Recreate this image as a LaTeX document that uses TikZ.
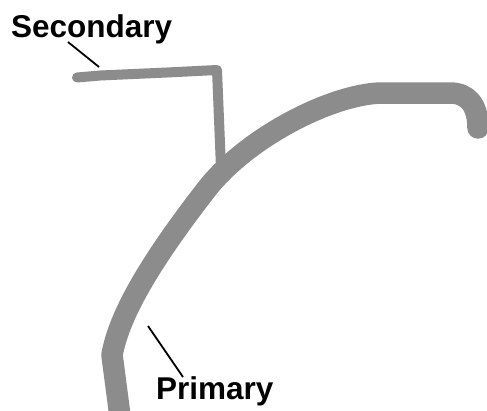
\documentclass[tikz,border=0pt]{standalone}
\usepackage{fontspec}
\setmainfont{Liberation Sans}
\definecolor{vessel}{RGB}{140,140,140}
\tikzset{
  primaryvessel/.style={draw=vessel, line width=21.5pt, line cap=round, line join=round},
  secondaryvessel/.style={draw=vessel, line width=10pt, line cap=round, line join=round},
  leader/.style={draw=black, line width=1.8pt},
  tag/.style={font=\fontsize{31.5}{37}\selectfont\bfseries, anchor=base west, inner sep=0pt},
}
\begin{document}
\begin{tikzpicture}[x=1pt, y=-1pt]
  \useasboundingbox (0,0) rectangle (487,410);
  \fill[white] (0,0) rectangle (487,410);

  % secondary branch: bent line meeting the primary curve
  \coordinate (s0) at (77,77.5);
  \coordinate (s1) at (100,75.5);
  \coordinate (s2) at (167,72.5);
  \coordinate (s3) at (217,70);
  \coordinate (s4) at (221,168);
  \draw[secondaryvessel] (s0) -- (s1) -- (s2) -- (s3) -- (s4);

  % primary curve
  \coordinate (p0) at (120,416);
  \coordinate (p1) at (112,355);
  \coordinate (p2) at (206,190);
  \coordinate (p3) at (380,93);
  \coordinate (p4) at (450,93);
  \coordinate (p5) at (478,128);
  \draw[primaryvessel]
    (p0) -- (p1)
    .. controls (118,322) and (140,275) .. (p2)
    .. controls (246,138) and (330,95) .. (p3)
    -- (p4) .. controls (467,93) and (478,104) .. (p5);

  % labels with leader lines
  \node[tag] (sec) at (11,37) {Secondary};
  \coordinate (secA) at (68,42);
  \coordinate (secB) at (99,67);
  \draw[leader] (secA) -- (secB);

  \node[tag] (pri) at (156,399) {Primary};
  \coordinate (priA) at (148,326);
  \coordinate (priB) at (183,377);
  \draw[leader] (priA) -- (priB);
\end{tikzpicture}
\end{document}
